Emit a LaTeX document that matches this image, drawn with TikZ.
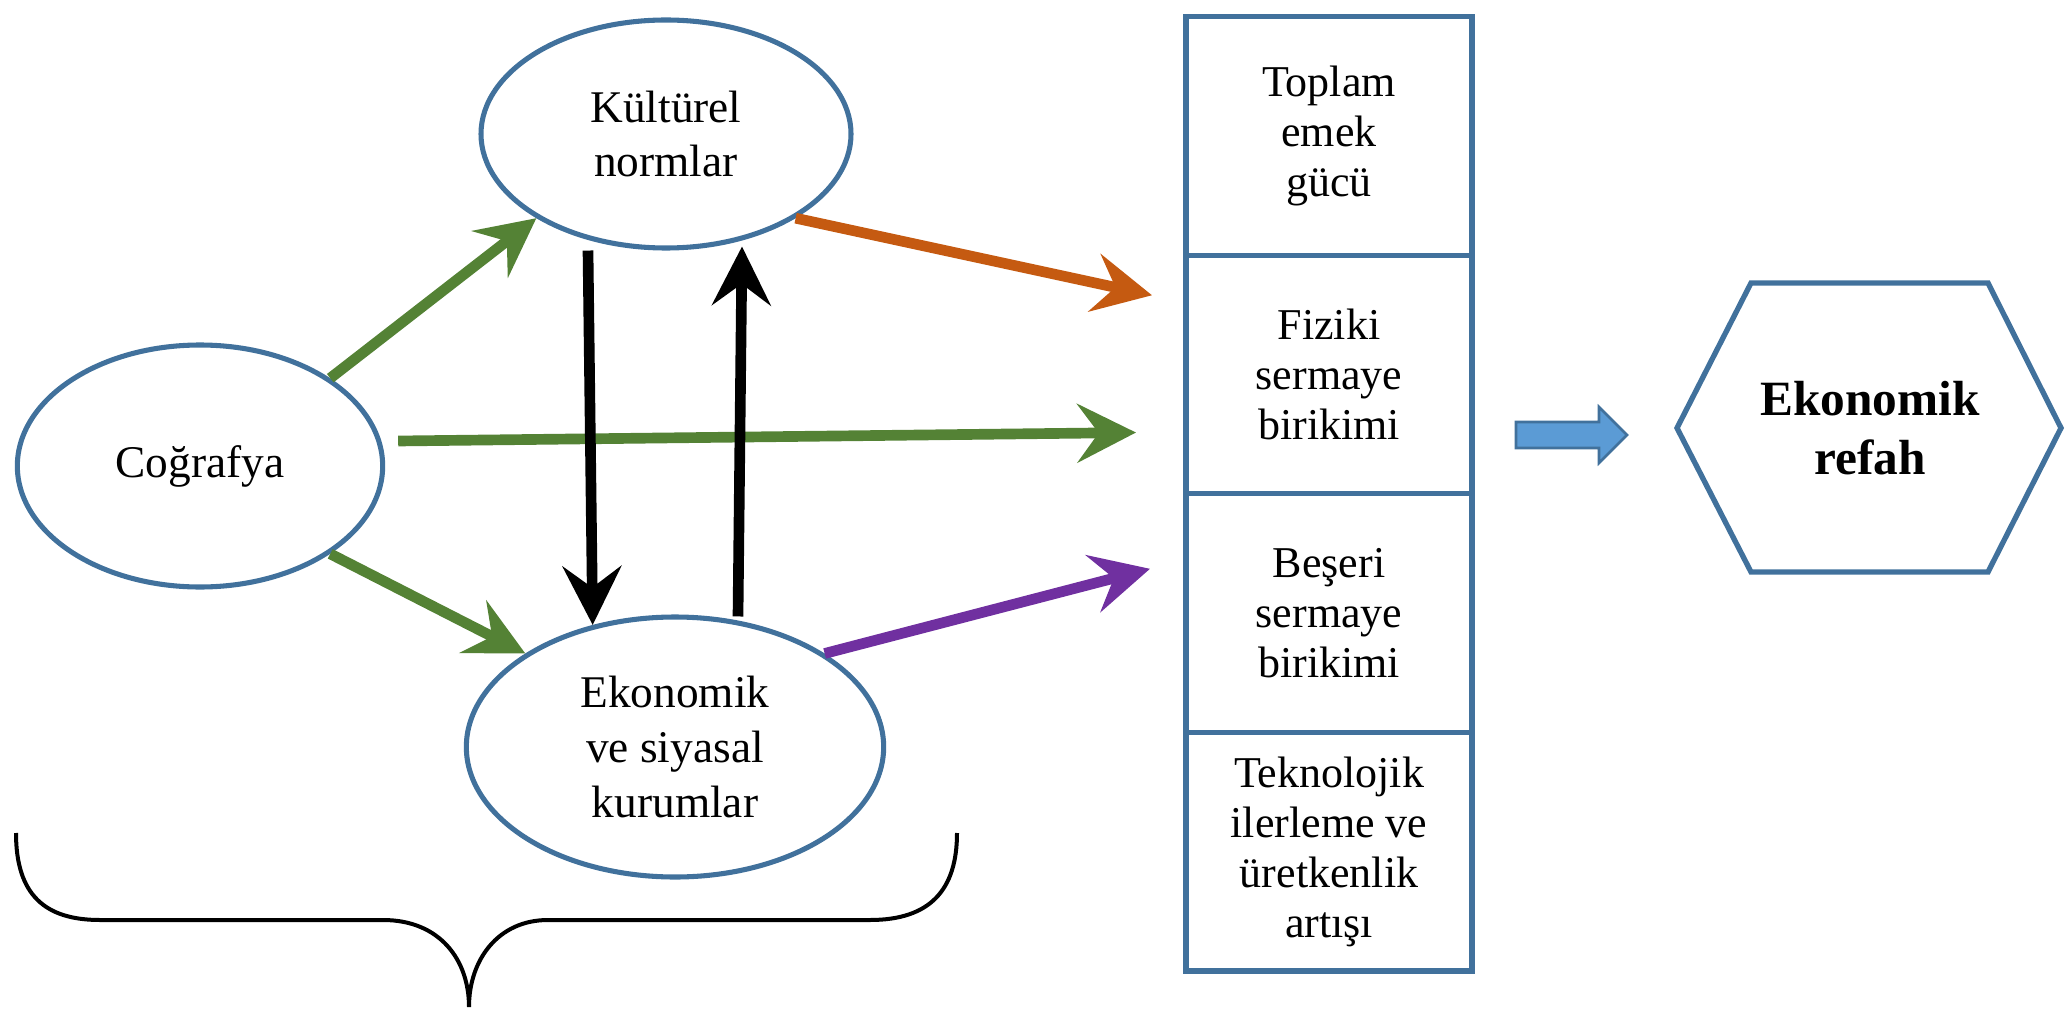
\documentclass[tikz,border=0pt]{standalone}
\usepackage{fontspec}
\setmainfont{Liberation Serif}
\usetikzlibrary{shapes.geometric, arrows.meta, positioning, calc}

\begin{document}
\begin{tikzpicture}[x=0.75pt,y=0.75pt,yscale=-1,xscale=1,
  elips/.style={ellipse, draw={rgb, 255:red, 65; green, 113; blue, 156}, line width=3.8pt, inner sep=0pt, align=center, font=\fontsize{34}{41}\selectfont},
  kutu/.style={rectangle, draw={rgb, 255:red, 65; green, 113; blue, 156}, line width=4pt, outer sep=0pt, minimum width=214.5pt, minimum height=178.9pt, inner sep=0pt, align=center, font=\fontsize{33}{37.5}\selectfont},
  ok/.style={line width=8pt, -{Stealth[length=44pt, width=44pt, inset=16pt]}},
  yesil/.style={ok, color={rgb, 255:red, 84; green, 130; blue, 53}},
  siyah/.style={ok, color=black},
  turuncu/.style={ok, color={rgb, 255:red, 197; green, 90; blue, 17}},
  mor/.style={ok, color={rgb, 255:red, 112; green, 48; blue, 160}}
]
\useasboundingbox (0,0) rectangle (2066,1009);

%Shape: Ellipse
\node[elips, minimum width=277.5pt, minimum height=171pt] (kultur) at (666,134) {Kültürel\\normlar};
%Shape: Ellipse
\node[elips, minimum width=274pt, minimum height=181.5pt] (cografya) at (200,466) {Coğrafya};
%Shape: Ellipse
\node[elips, minimum width=313pt, minimum height=195pt] (kurum) at (675,747) {Ekonomik\\ve siyasal\\kurumlar};

%Shape: Rectangle
\node[kutu] (emek) at (1329,136) {Toplam\\emek\\gücü};
\node[kutu, below=0pt of emek] (fiziki) {Fiziki\\sermaye\\birikimi};
\node[kutu, below=0pt of fiziki] (beseri) {Beşeri\\sermaye\\birikimi};
\node[kutu, below=0pt of beseri] (tekno) {Teknolojik\\ilerleme ve\\üretkenlik\\artışı};

%Shape: Hexagon
\draw[draw={rgb, 255:red, 65; green, 113; blue, 156}, line width=4pt] (1677,428) -- (1751,283) -- (1988,283) -- (2061,428) -- (1988,572) -- (1751,572) -- cycle;
% Text Node
\node[font=\bfseries\fontsize{37}{44}\selectfont, align=center] (refah) at (1870,428) {Ekonomik\\refah};

%Shape: Right Arrow
\draw[fill={rgb, 255:red, 91; green, 155; blue, 213}, draw={rgb, 255:red, 65; green, 113; blue, 156}, line width=2pt] (1516,422) -- (1599,422) -- (1599,407) -- (1627,435) -- (1599,463) -- (1599,448) -- (1516,448) -- cycle;

%Straight Lines
\draw[yesil] (cografya.34) -- (kultur.213);
\draw[yesil] ($(cografya.east)+(13,-25)$) -- ($(fiziki.west)+(-50,58)$);
\draw[yesil] (cografya.-34) -- (kurum.148);
\draw[siyah] ($(kultur.south)+(-78,0)$) -- (kurum.124);
\draw[siyah] ($(kurum.north)+(63,2)$) -- ($(kultur.south)+(76,-4)$);
\draw[turuncu] (kultur.-33) -- ($(emek.south west)+(-34,40)$);
\draw[mor] (kurum.32) -- ($(beseri.north west)+(-36,75)$);

%Shape: Brace
\draw[line width=3pt] (16,833) .. controls (16,895) and (45,920) .. (100,920) -- (383,920) .. controls (440,920) and (469,960) .. (469,1007) .. controls (469,960) and (498,920) .. (548,920) -- (870,920) .. controls (930,920) and (957,890) .. (957,833);

\end{tikzpicture}
\end{document}
